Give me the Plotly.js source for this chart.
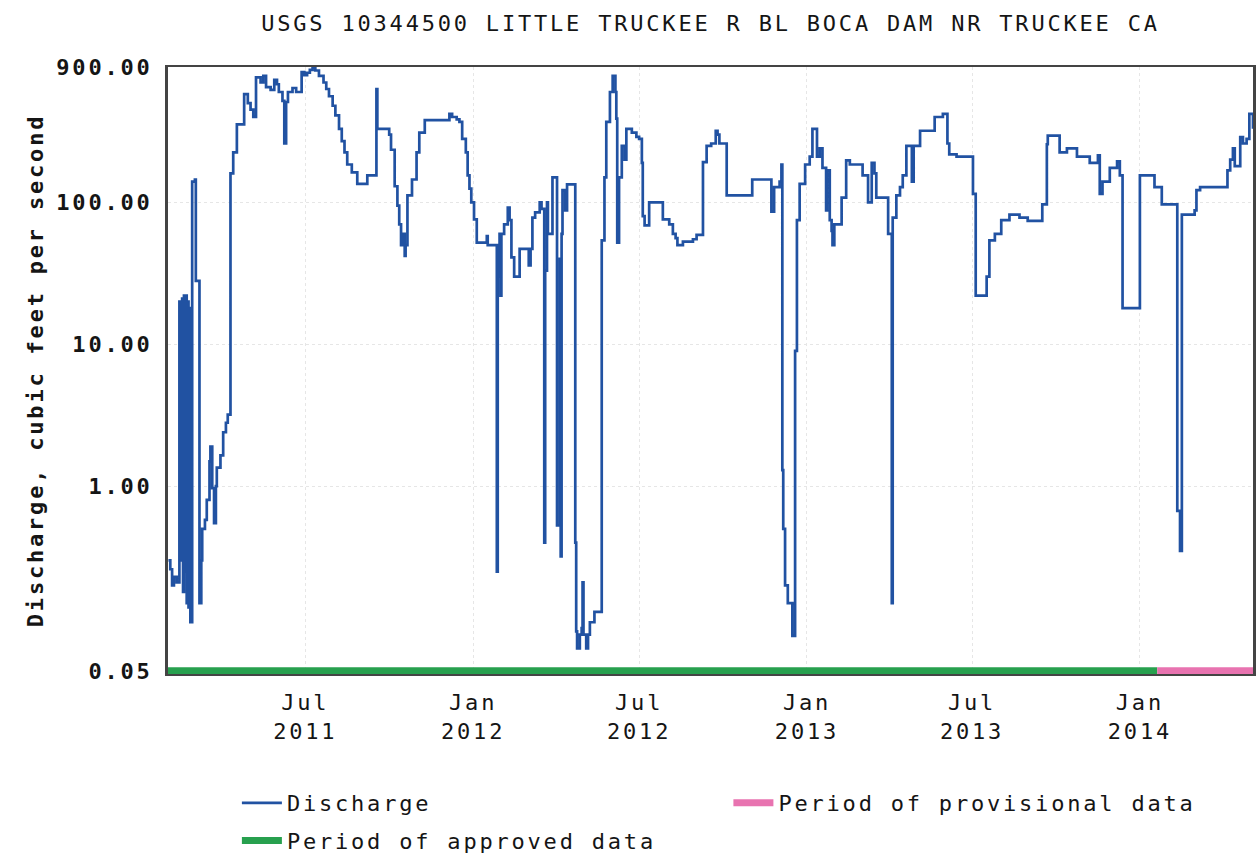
<!DOCTYPE html>
<html><head><meta charset="utf-8">
<script src="https://cdn.plot.ly/plotly-3.0.1.min.js"></script>
<style>
html,body{margin:0;padding:0;background:#fff;}
#chart{width:1256px;height:857px;}
text{letter-spacing:2.8px;}
</style></head>
<body><div id="chart"></div>
<script>
const dates = [
'2011-02-01','2011-02-03','2011-02-05','2011-02-07','2011-02-10','2011-02-13','2011-02-15','2011-02-16','2011-02-17','2011-02-18',
'2011-02-19','2011-02-20','2011-02-21','2011-02-22','2011-02-23','2011-02-24','2011-02-25','2011-02-27','2011-03-02','2011-03-03',
'2011-03-07','2011-03-09','2011-03-10','2011-03-13','2011-03-15','2011-03-18','2011-03-19','2011-03-21','2011-03-23','2011-03-25',
'2011-03-26','2011-03-30','2011-04-02','2011-04-05','2011-04-07','2011-04-10','2011-04-13','2011-04-17','2011-04-25','2011-04-29',
'2011-05-02','2011-05-05','2011-05-08','2011-05-13','2011-05-16','2011-05-19','2011-05-24','2011-05-28','2011-05-31','2011-06-02',
'2011-06-06','2011-06-08','2011-06-10','2011-06-12','2011-06-17','2011-06-21','2011-06-27','2011-06-30','2011-07-03','2011-07-06',
'2011-07-09','2011-07-12','2011-07-16','2011-07-21','2011-07-24','2011-07-27','2011-07-31','2011-08-03','2011-08-07','2011-08-10',
'2011-08-13','2011-08-16','2011-08-21','2011-08-27','2011-09-07','2011-09-17','2011-09-18','2011-10-01','2011-10-03','2011-10-07',
'2011-10-10','2011-10-12','2011-10-14','2011-10-16','2011-10-18','2011-10-19','2011-10-21','2011-10-26','2011-10-31','2011-11-03',
'2011-11-09','2011-12-06','2011-12-09','2011-12-14','2011-12-17','2011-12-20','2011-12-24','2011-12-26','2011-12-28','2011-12-30',
'2012-01-02','2012-01-05','2012-01-16','2012-01-17','2012-01-27','2012-01-28','2012-01-29','2012-01-30','2012-01-31','2012-02-01',
'2012-02-04','2012-02-08','2012-02-10','2012-02-12','2012-02-15','2012-02-21','2012-03-02','2012-03-04','2012-03-06','2012-03-09',
'2012-03-14','2012-03-16','2012-03-19','2012-03-20','2012-03-22','2012-03-23','2012-03-28','2012-04-02','2012-04-05','2012-04-06',
'2012-04-07','2012-04-08','2012-04-11','2012-04-13','2012-04-22','2012-04-23','2012-04-24','2012-04-27','2012-04-29','2012-04-30',
'2012-05-01','2012-05-04','2012-05-06','2012-05-08','2012-05-13','2012-05-21','2012-05-24','2012-05-26','2012-05-30','2012-06-02',
'2012-06-05','2012-06-06','2012-06-07','2012-06-09','2012-06-12','2012-06-15','2012-06-17','2012-06-23','2012-06-28','2012-07-01',
'2012-07-04','2012-07-05','2012-07-07','2012-07-12','2012-07-27','2012-08-03','2012-08-07','2012-08-10','2012-08-12','2012-08-18',
'2012-08-29','2012-09-02','2012-09-09','2012-09-13','2012-09-18','2012-09-23','2012-09-25','2012-09-27','2012-10-05','2012-11-02',
'2012-11-23','2012-11-26','2012-12-02','2012-12-04','2012-12-05','2012-12-06','2012-12-08','2012-12-11','2012-12-16','2012-12-19',
'2012-12-21','2012-12-24','2012-12-30','2013-01-04','2013-01-07','2013-01-12','2013-01-15','2013-01-18','2013-01-22','2013-01-23',
'2013-01-26','2013-01-28','2013-01-29','2013-01-31','2013-02-08','2013-02-13','2013-02-17','2013-03-03','2013-03-09','2013-03-13',
'2013-03-16','2013-03-18','2013-03-31','2013-04-04','2013-04-05','2013-04-09','2013-04-13','2013-04-16','2013-04-20','2013-04-26',
'2013-04-28','2013-05-05','2013-05-21','2013-05-30','2013-06-04','2013-06-06','2013-06-14','2013-07-02','2013-07-05','2013-07-17',
'2013-07-20','2013-07-26','2013-08-02','2013-08-11','2013-08-22','2013-08-31','2013-09-16','2013-09-21','2013-09-22','2013-10-05',
'2013-10-13','2013-10-24','2013-11-07','2013-11-16','2013-11-18','2013-11-21','2013-11-29','2013-12-07','2013-12-10','2013-12-13',
'2014-01-01','2014-01-17','2014-01-25','2014-02-11','2014-02-14','2014-02-16','2014-03-02','2014-03-04','2014-03-08','2014-04-07',
'2014-04-10','2014-04-13','2014-04-15','2014-04-21','2014-04-24','2014-04-28','2014-05-01','2014-05-05'
];
const discharge = [
0.3,0.26,0.2,0.23,0.21,20,0.3,21,0.18,22,
0.25,22,0.15,20,0.14,18,0.11,140,145,28,
0.15,0.3,0.5,0.58,0.8,1.5,1.9,0.97,0.55,1.0,
1.35,1.65,2.4,2.8,3.2,160,225,355,580,500,
450,400,760,700,780,650,620,730,680,600,
520,260,510,600,640,600,830,790,820,860,
900,850,780,700,630,560,480,410,330,270,
225,185,163,135,155,630,330,300,235,130,
95,70,50,60,42,50,112,145,225,310,
380,420,400,385,370,280,225,155,125,100,
76,52,58,50,0.25,50,30,60,22,60,
70,92,75,41,30,47,36,47,78,85,
100,90,0.4,33,100,60,150,0.53,40,0.32,
60,122,88,134,0.4,0.095,0.072,0.09,0.1,0.21,
0.09,0.072,0.09,0.11,0.13,54,150,370,600,780,
600,390,52,150,250,200,330,310,290,280,
190,80,69,100,76,70,60,56,50,53,
55,59,192,250,260,320,300,260,112,145,
86,128,140,185,1.3,0.5,0.2,0.15,0.088,9,
75,135,185,210,330,210,240,175,88,168,
75,63,50,70,108,198,185,155,100,190,
160,108,60,0.15,78,112,128,155,250,140,
250,320,400,420,260,218,210,115,22,30,
54,60,75,82,78,74,97,257,296,225,
240,210,190,215,115,140,175,195,155,18,
155,128,97,0.67,0.35,82,88,122,128,168,
200,240,180,288,260,280,420,330
];
const approvedPeriod = ['2011-01-31 12:00', '2014-01-20'];
const provisionalPeriod = ['2014-01-20', '2014-05-06'];
const periodLevel = [0.05, 0.05];
const yTickValues = [0.05, 1, 10, 100, 900];
const yTickLabels = ['0.05', '1.00', '10.00', '100.00', '900.00'];
const xTickValues = ['2011-07-01', '2012-01-01', '2012-07-01', '2013-01-01', '2013-07-01', '2014-01-01'];
const xTickLabels = ['Jul<br>2011', 'Jan<br>2012', 'Jul<br>2012', 'Jan<br>2013', 'Jul<br>2013', 'Jan<br>2014'];

const FAM = '"DejaVu Sans Mono", "Liberation Mono", monospace';

const traces = [
  {x: approvedPeriod, y: periodLevel, mode: 'lines', name: 'Period of approved data',
   line: {color: '#27a04e', width: 7}, legend: 'legend', legendgroup: 'b', legendrank: 2, hoverinfo: 'skip'},
  {x: provisionalPeriod, y: periodLevel, mode: 'lines', name: 'Period of provisional data',
   line: {color: '#e873b0', width: 7}, legend: 'legend2', legendgroup: 'c', hoverinfo: 'skip'},
  {x: dates, y: discharge, mode: 'lines', name: 'Discharge',
   line: {color: '#2152a2', width: 2.7, shape: 'hv'}, legend: 'legend', legendgroup: 'a', legendrank: 1}
];

const layout = {
  width: 1256, height: 857,
  margin: {l: 168, r: 3, t: 67, b: 183, autoexpand: false},
  paper_bgcolor: '#ffffff', plot_bgcolor: '#ffffff',
  font: {family: FAM, size: 22, color: '#151515'},
  hovermode: false,
  title: {text: 'USGS 10344500 LITTLE TRUCKEE R BL BOCA DAM NR TRUCKEE CA',
          x: 0.5, xref: 'paper', xanchor: 'center', y: 1 - 23/857, yref: 'container', yanchor: 'middle',
          font: {family: FAM, size: 22, color: '#151515'}},
  xaxis: {type: 'date', range: ['2011-01-31 12:00', '2014-05-05'], automargin: false,
          tickmode: 'array', tickvals: xTickValues, ticktext: xTickLabels,
          showgrid: true, gridcolor: '#e6e6e6', griddash: 'dot', gridwidth: 1,
          showline: true, linecolor: '#444', linewidth: 2, mirror: true,
          ticks: '', zeroline: false, ticklabelstandoff: 8,
          tickfont: {family: FAM, size: 22, color: '#151515'}},
  yaxis: {type: 'log', range: [Math.log10(0.0475), Math.log10(900)], automargin: false,
          tickmode: 'array', tickvals: yTickValues, ticktext: yTickLabels,
          showgrid: true, gridcolor: '#e6e6e6', griddash: 'dot', gridwidth: 1,
          showline: true, linecolor: '#444', linewidth: 3, mirror: true,
          ticks: '', zeroline: false, ticklabelstandoff: 8,
          tickfont: {family: FAM, size: 22, color: '#151515', weight: 'bold'},
          title: {text: 'Discharge, cubic feet per second', standoff: 7,
                  font: {family: FAM, size: 22, color: '#151515', weight: 'bold'}}},
  showlegend: true,
  legend: {orientation: 'v', x: 0.0635, xref: 'paper', y: 1 - 782/857, yref: 'container', xanchor: 'left', yanchor: 'top',
           itemwidth: 40, tracegroupgap: 6, bgcolor: 'rgba(0,0,0,0)', font: {family: FAM, size: 22, color: '#151515'}},
  legend2: {orientation: 'v', x: 0.5165, xref: 'paper', y: 1 - 782/857, yref: 'container', xanchor: 'left', yanchor: 'top',
           itemwidth: 40, bgcolor: 'rgba(0,0,0,0)', font: {family: FAM, size: 22, color: '#151515'}}
};

Plotly.newPlot('chart', traces, layout, {staticPlot: true, displayModeBar: false});
</script>
</body></html>
